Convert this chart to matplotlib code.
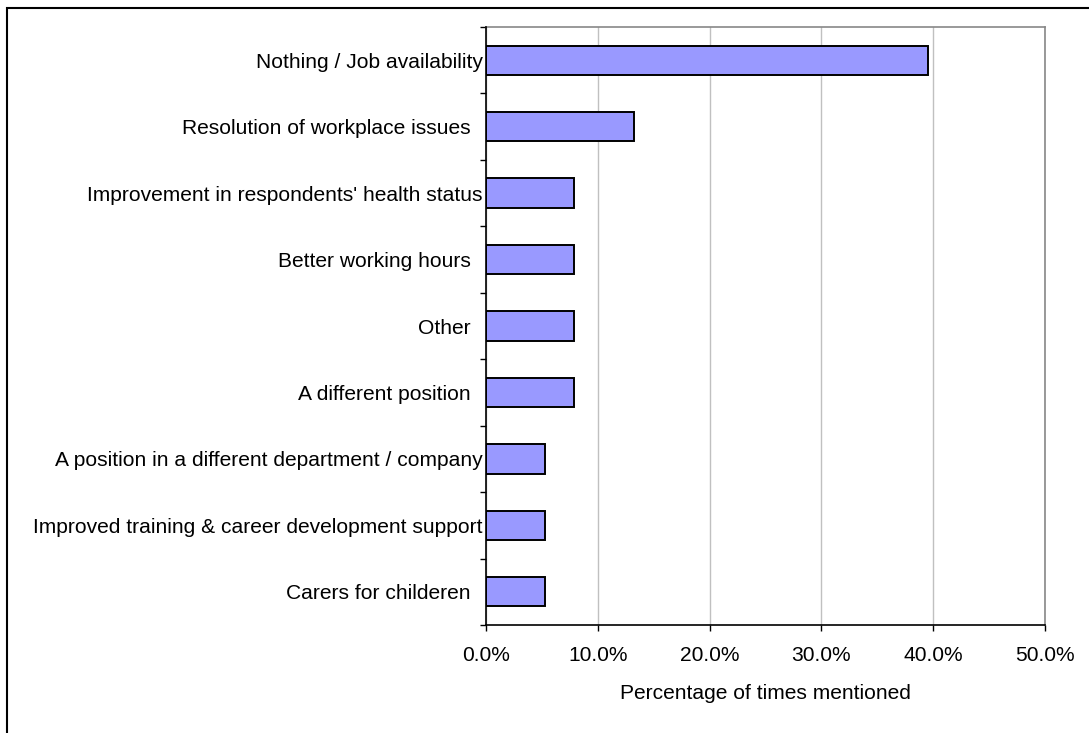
import matplotlib

matplotlib.use("Agg")
import matplotlib.pyplot as plt
from matplotlib.patches import Rectangle
from matplotlib.ticker import FuncFormatter

# top to bottom, as shown (trailing spaces mimic the uneven label ends)
categories = [
    "Nothing / Job availability",
    "Resolution of workplace issues  ",
    "Improvement in respondents' health status",
    "Better working hours  ",
    "Other  ",
    "A different position  ",
    "A position in a different department / company",
    "Improved training & career development support",
    "Carers for childeren  ",
]
percentages = [39.5, 13.2, 7.9, 7.9, 7.9, 7.9, 5.3, 5.3, 5.3]
x_ticks = [0, 10, 20, 30, 40, 50]

plt.rcParams["font.family"] = ["Liberation Sans", "DejaVu Sans"]
FONT_SIZE = 15.15

W, H = 1089, 733
fig = plt.figure(figsize=(W / 100, H / 100), dpi=100)
ax = fig.add_axes([486 / W, 1 - 625 / H, (1045 - 486) / W, (625 - 27) / H])

positions = list(range(len(categories)))
ax.barh(positions, percentages, height=0.44, color="#9999FF",
        edgecolor="black", linewidth=1.4, zorder=3)

ax.set_ylim(len(categories) - 0.5, -0.5)
ax.set_xlim(0, 50)
ax.set_yticks(positions, categories, fontsize=FONT_SIZE)
ax.set_yticks([p + 0.5 for p in range(-1, len(categories))], minor=True)
ax.tick_params(axis="y", which="major", length=0, pad=2.5)
ax.tick_params(axis="y", which="minor", length=4.5, width=1, color="black")

ax.set_xticks(x_ticks)
ax.xaxis.set_major_formatter(FuncFormatter(lambda v, _: f"{v:.1f}%"))
ax.tick_params(axis="x", length=4, width=1, labelsize=FONT_SIZE, pad=11)
ax.set_xlabel("Percentage of times mentioned", fontsize=FONT_SIZE, labelpad=14)

ax.xaxis.grid(True, color="#C0C0C0", linewidth=1)
ax.set_axisbelow(True)
for side in ("left", "bottom"):
    ax.spines[side].set_color("black")
    ax.spines[side].set_linewidth(1.2)
    ax.spines[side].set_zorder(4)
for side in ("top", "right"):
    ax.spines[side].set_color("#888888")
    ax.spines[side].set_linewidth(1.2)

# outer chart border (right and bottom edges run past the image)
fig.patches.append(Rectangle((7 / W, -0.05), 1.2, 1 - 8 / H + 0.05,
                             transform=fig.transFigure, fill=False,
                             edgecolor="black", linewidth=1.5))

fig.savefig("out.png", dpi=100, facecolor="white")
